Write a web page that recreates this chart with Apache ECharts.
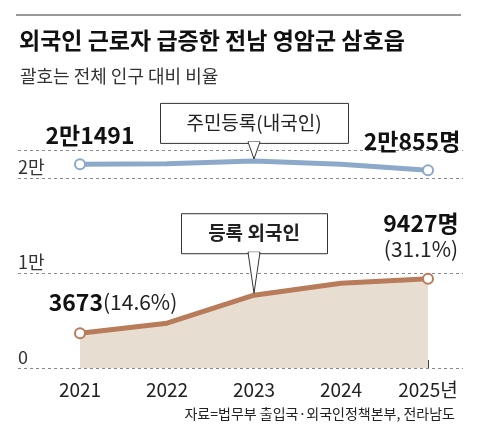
<!DOCTYPE html>
<html><head><meta charset="utf-8">
<script src="https://cdn.jsdelivr.net/npm/echarts@6/dist/echarts.min.js"></script>
<style>html,body{margin:0;padding:0;background:#fff}#c{width:480px;height:444px}</style>
</head><body><div id="c"></div>
<script>
const years = ['2021','2022','2023','2024','2025년'];
const residents = [21491, 21560, 21850, 21500, 20855];
const foreigners = [3673, 4730, 7680, 8950, 9427];
const yTicks = {0:'0', 10000:'1만', 20000:'2만'};
const KR = '"Noto Sans CJK KR", sans-serif';
const NUM = '"Liberation Sans Narrow", "Noto Sans CJK KR", sans-serif';

const chart = echarts.init(document.getElementById('c'));
const gridTop = 150, gridBottom = 76;
const opt = {
  animation: false,
  title: [
    {text: '외국인 근로자 급증한 전남 영암군 삼호읍', left: 14, top: 24,
     textStyle: {fontFamily: KR, fontSize: 23, fontWeight: 'bold', color: '#111'}},
    {text: '괄호는 전체 인구 대비 비율', left: 15, top: 62,
     textStyle: {fontFamily: KR, fontSize: 18, fontWeight: 'normal', color: '#333'}},
    {text: '자료=법무부 출입국·외국인정책본부, 전라남도', right: 20, top: 402,
     textStyle: {fontFamily: KR, fontSize: 14, fontWeight: 'normal', color: '#222'}}
  ],
  grid: [
    {left: 80, right: 52, top: gridTop, bottom: gridBottom},
    {left: 18, right: 17, top: gridTop, bottom: gridBottom}
  ],
  xAxis: [
    {type: 'category', data: years, boundaryGap: false, gridIndex: 0,
     axisLine: {show: false},
     axisTick: {show: true, inside: true, length: 8, lineStyle: {color: '#444'}},
     axisLabel: {fontFamily: NUM, fontSize: 19, color: '#222', margin: 12}},
    {type: 'category', data: [0, 1], gridIndex: 1, show: false}
  ],
  yAxis: [
    {type: 'value', min: 0, max: 23000, gridIndex: 0, show: false},
    {type: 'value', min: 0, max: 23000, interval: 10000, gridIndex: 1,
     axisLine: {show: false}, axisTick: {show: false},
     splitLine: {lineStyle: {type: [3, 3], color: '#888', width: 1}},
     axisLabel: {inside: true, verticalAlign: 'bottom', margin: 0, padding: [0, 0, 2, 0],
       fontFamily: KR, fontSize: 18, color: '#333',
       formatter: v => yTicks[v] !== undefined ? yTicks[v] : ''}}
  ],
  series: [
    {type: 'line', xAxisIndex: 0, yAxisIndex: 0,
     lineStyle: {color: '#8DA9C9', width: 5}, itemStyle: {color: '#fff', borderColor: '#8DA9C9', borderWidth: 2},
     symbolSize: 10, z: 3,
     label: {show: true, fontFamily: NUM, fontWeight: 'bold', fontSize: 23, color: '#111',
       formatter: p => p.dataIndex === 0 ? '2만1491' : (p.dataIndex === 4 ? '2만855명' : ''),
       position: 'top', distance: 12},
     labelLayout: p => p.dataIndex === 0 ? {dx: 10} : {dx: -16, dy: 0}
    },
    {type: 'line', xAxisIndex: 0, yAxisIndex: 0,
     lineStyle: {color: '#B97C5A', width: 5}, itemStyle: {color: '#fff', borderColor: '#B97C5A', borderWidth: 2},
     symbolSize: 10, z: 3,
     areaStyle: {color: '#E7DDD1', opacity: 1},
     label: {show: true, position: 'top', distance: 12,
       formatter: p => p.dataIndex === 0 ? '{b|3673}{n|(14.6%)}' : (p.dataIndex === 4 ? '{b|9427명}\n{n|(31.1%)}' : ''),
       align: 'center',
       rich: {b: {fontFamily: NUM, fontWeight: 'bold', fontSize: 23, color: '#111', lineHeight: 26},
              n: {fontFamily: NUM, fontSize: 21, color: '#222', lineHeight: 24}}},
     labelLayout: p => p.dataIndex === 0 ? {dx: 33, dy: 0} : {dx: -7}
    }
  ]
};
opt.series[0].data = residents.map((v, i) => ({value: v, symbol: (i === 0 || i === 4) ? 'circle' : 'none'}));
opt.series[1].data = foreigners.map((v, i) => ({value: v, symbol: (i === 0 || i === 4) ? 'circle' : 'none'}));
chart.setOption(opt);

function callout(idx, data, text, bold, w, boxH, ptr) {
  const p = chart.convertToPixel({xAxisIndex: 0, yAxisIndex: 0}, [idx, data[idx]]);
  const tipY = p[1] - 2, bottom = tipY - ptr, top = bottom - boxH;
  const cx = p[0];
  return [
    {type: 'polygon', z: 10, shape: {points: [[cx - 6, bottom - 1], [cx + 6, bottom - 1], [cx, tipY]]},
     style: {fill: '#fff', stroke: '#333', lineWidth: 1}},
    {type: 'rect', z: 9, shape: {x: cx - w / 2 + 0.5, y: top + 0.5, width: w, height: boxH},
     style: {fill: '#fff', stroke: '#333', lineWidth: 1}},
    {type: 'rect', z: 11, shape: {x: cx - 5, y: bottom - 1, width: 10, height: 1.5}, style: {fill: '#fff'}},
    {type: 'text', z: 12, x: cx, y: top + boxH / 2,
     style: {text: text, fontFamily: KR, fontSize: 19, fontWeight: bold ? 'bold' : 'normal', fill: '#222',
       align: 'center', verticalAlign: 'middle'}}
  ];
}
chart.setOption({graphic: [
  {type: 'line', shape: {x1: 16, y1: 15, x2: 461, y2: 15}, style: {stroke: '#333', lineWidth: 1}},
  ...callout(2, residents, '주민등록(내국인)', false, 188, 40, 16),
  ...callout(2, foreigners, '등록 외국인', true, 146, 40, 40)
]});
</script></body></html>
